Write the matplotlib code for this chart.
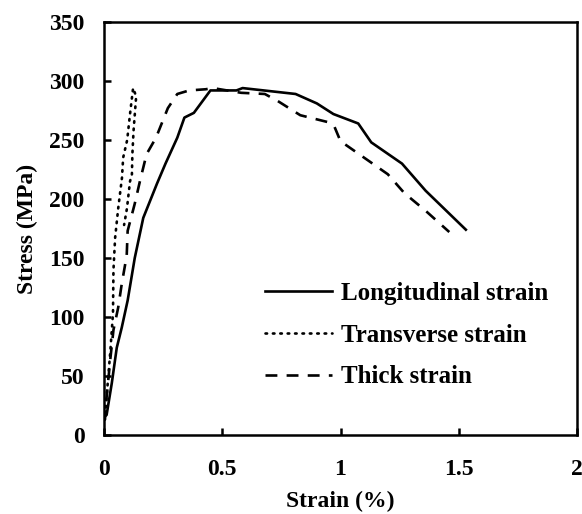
import matplotlib.pyplot as plt

plt.rcParams['font.family'] = ['Liberation Serif', 'DejaVu Serif']
plt.rcParams['font.weight'] = 'bold'

# Longitudinal strain (solid)
long_strain = [0.0, 0.011, 0.033, 0.054, 0.075, 0.10, 0.13, 0.166, 0.224, 0.26, 0.31,
               0.34, 0.38, 0.45, 0.56, 0.586, 0.81, 0.90, 0.97, 1.075, 1.13, 1.26,
               1.36, 1.53]
long_stress = [15, 17, 44, 74, 91, 114, 150, 184, 213, 230, 252,
               269, 273, 292, 292, 294, 289, 281, 272, 264, 248, 230,
               207, 174]

# Transverse strain (dotted)
trans_strain = [0.0, 0.004, 0.01, 0.026, 0.038, 0.04, 0.047, 0.06, 0.076, 0.081,
                0.098, 0.11, 0.123, 0.136, 0.125, 0.12, 0.118, 0.11, 0.097, 0.085]
trans_stress = [15, 13, 30, 69, 103, 140, 167, 192, 218, 235,
                250, 272, 294, 287, 258, 238, 221, 215, 192, 178]

# Thick strain (dashed)
thick_strain = [0.0, 0.004, 0.01, 0.026, 0.04, 0.06, 0.075, 0.096, 0.10, 0.13, 0.153,
                0.18, 0.22, 0.26, 0.27, 0.31, 0.36, 0.43, 0.46, 0.58, 0.68, 0.735,
                0.83, 0.95, 0.975, 1.0, 1.10, 1.20, 1.27, 1.36, 1.46]
thick_stress = [15, 13, 30, 63, 89, 108, 128, 152, 173, 196, 216,
                238, 252, 272, 277, 289, 292, 293, 294, 290, 289, 283,
                271, 265, 261, 249, 235, 221, 205, 190, 172]

fig = plt.figure(figsize=(5.82, 5.14), dpi=100)
ax = fig.add_axes([104 / 582, 1 - 435 / 514, 473 / 582, 413 / 514])

ax.plot(long_strain, long_stress, color='black', lw=1.9, ls='-', label='Longitudinal strain')
ax.plot(trans_strain, trans_stress, color='black', lw=1.9, ls=(0, (0.6, 2.2)),
        dash_capstyle='round', label='Transverse strain')
ax.plot(thick_strain, thick_stress, color='black', lw=1.9, ls=(0, (4.5, 3.5)), label='Thick strain')

ax.set_xlim(0, 2)
ax.set_ylim(0, 350)
ax.set_xticks([0, 0.5, 1, 1.5, 2])
ax.set_xticklabels(['0', '0.5', '1', '1.5', '2'])
ax.set_yticks(range(0, 351, 50))
ax.tick_params(direction='in', length=5, width=1.8, labelsize=17, pad=14)
ax.tick_params(axis='x', pad=17)
for s in ax.spines.values():
    s.set_linewidth(1.8)

ax.set_xlabel('Strain (%)', fontsize=17, fontweight='bold', labelpad=8)
ax.set_ylabel('Stress (MPa)', fontsize=17, fontweight='bold', labelpad=8)

ax.legend(loc='center left', bbox_to_anchor=(0.313, 0.242), frameon=False, fontsize=18,
          borderpad=0, handlelength=2.7, handletextpad=0.34, labelspacing=0.75)

fig.savefig('out.png', dpi=100)
